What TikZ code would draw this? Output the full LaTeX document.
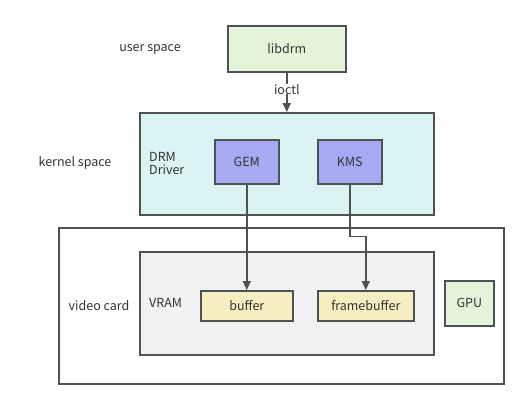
\documentclass[tikz,border=0pt]{standalone}
\usepackage{fontspec}
\setmainfont{Noto Sans CJK SC}
\usetikzlibrary{arrows.meta}
\definecolor{edge}{HTML}{4D5257}
\definecolor{txt}{HTML}{333333}
\definecolor{lgreen}{HTML}{E4F4D8}
\definecolor{lcyan}{HTML}{DBF4F3}
\definecolor{lblue}{HTML}{A5AAF3}
\definecolor{lyellow}{HTML}{F6EDC0}
\definecolor{lgray}{HTML}{F1F1F1}
\tikzset{
  box/.style={draw=edge, line width=1.6pt, inner sep=0pt, text=txt},
  lbl/.style={text=txt, inner sep=0pt},
  conn/.style={draw=edge, line width=1.4pt, -{Triangle[length=9pt,width=8pt]}},
  every node/.style={font=\fontsize{12.5}{15}\selectfont}
}
\begin{document}
\begin{tikzpicture}[x=1pt,y=-1pt]
\useasboundingbox[fill=white] (0,0) rectangle (528,408);
% outer containers
\node[box, minimum width=445pt, minimum height=156pt, anchor=north west] (card) at (58,227) {};
\node[box, fill=lcyan, minimum width=294pt, minimum height=102pt, anchor=north west] (drm) at (139,112) {};
\node[box, fill=lgray, minimum width=294pt, minimum height=103pt, anchor=north west] (vram) at (139,251) {};
% inner boxes
\node[box, fill=lgreen, minimum width=118pt, minimum height=46pt, anchor=north west] (libdrm) at (227,25) {libdrm};
\node[box, fill=lblue, minimum width=64pt, minimum height=44pt, anchor=north west] (gem) at (214,139) {GEM};
\node[box, fill=lblue, minimum width=64pt, minimum height=44pt, anchor=north west] (kms) at (317,139) {KMS};
\node[box, fill=lyellow, minimum width=92pt, minimum height=30pt, anchor=north west] (buffer) at (200,290) {buffer};
\node[box, fill=lyellow, minimum width=96pt, minimum height=30pt, anchor=north west] (fb) at (317,290) {framebuffer};
\node[box, fill=lgreen, minimum width=49pt, minimum height=45pt, anchor=north west] (gpu) at (444,280) {GPU};
% labels
\node[lbl] (us) at (150,49) {user space};
\node[lbl] (ks) at (75,163) {kernel space};
\node[lbl] (vc) at (99,306) {video card};
\node[lbl, align=left, anchor=west] (drmlbl) at (149,163) {DRM\\[-2pt]Driver};
\node[lbl, anchor=west] (vramlbl) at (149,303) {VRAM};
% connectors
\draw[conn] (libdrm.south) -- node[pos=0.42, fill=white, inner sep=1pt, lbl] (ioctl) {ioctl} (drm.north -| libdrm.south);
\draw[conn] (gem.south) -- (buffer.north -| gem.south);
\coordinate (k1) at ([yshift=-52pt]kms.south);
\coordinate (k2) at (k1 -| fb.north);
\draw[conn] (kms.south) -- (k1) -- (k2) -- (fb.north);
\end{tikzpicture}
\end{document}
